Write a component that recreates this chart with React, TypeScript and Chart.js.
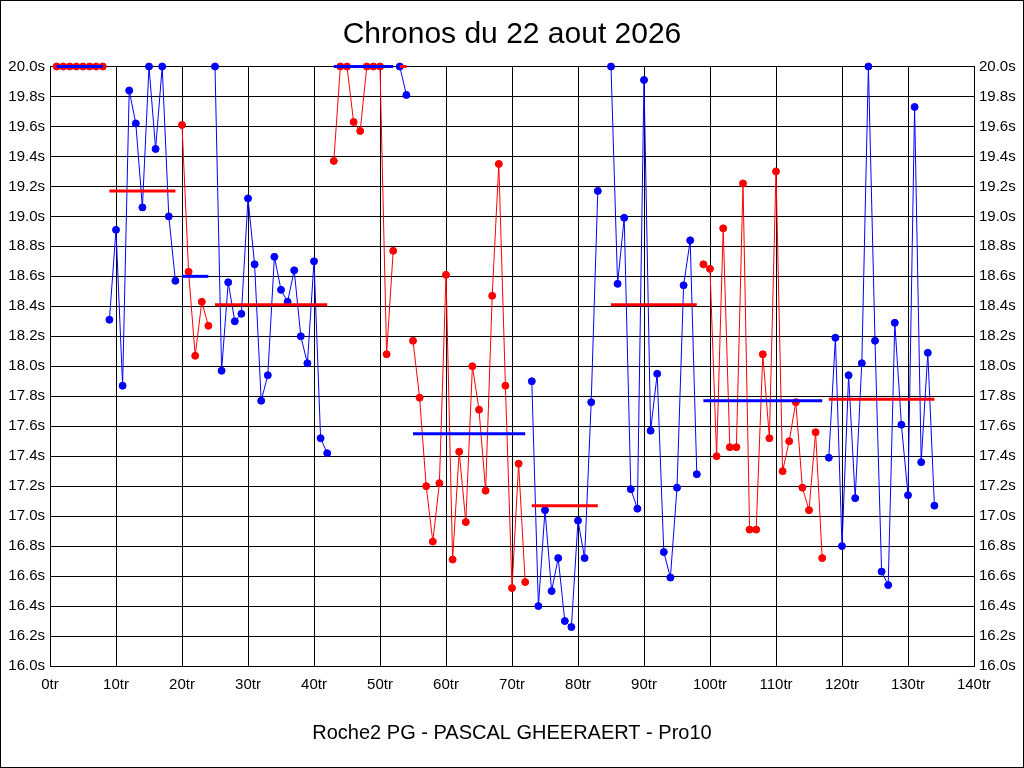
import { useEffect, useRef } from "react"
import { Chart, registerables } from "chart.js"

Chart.register(...registerables)

// lap times (s) per stint; values above 20s are shown clamped at 20.0
const stintStartLaps = [1, 9, 20, 25, 43, 53, 55, 73, 85, 99, 118]

const stint1 = [20.0, 20.0, 20.0, 20.0, 20.0, 20.0, 20.0, 20.0]
const stint2 = [18.31, 18.91, 17.87, 19.84, 19.62, 19.06, 20.0, 19.45, 20.0, 19.0, 18.57]
const stint3 = [19.61, 18.63, 18.07, 18.43, 18.27]
const stint4 = [
  20.0, 17.97, 18.56, 18.3, 18.35, 19.12, 18.68, 17.77, 17.94, 18.73, 18.51, 18.43, 18.64, 18.2,
  18.02, 18.7, 17.52, 17.42,
]
const stint5 = [19.37, 20.0, 20.0, 19.63, 19.57, 20.0, 20.0, 20.0, 18.08, 18.77]
const stint6 = [20.0, 19.81]
const stint7 = [
  18.17, 17.79, 17.2, 16.83, 17.22, 18.61, 16.71, 17.43, 16.96, 18.0, 17.71, 17.17, 18.47, 19.35,
  17.87, 16.52, 17.35, 16.56,
]
const stint8 = [17.9, 16.4, 17.04, 16.5, 16.72, 16.3, 16.26, 16.97, 16.72, 17.76, 19.17]
const stint9 = [
  20.0, 18.55, 18.99, 17.18, 17.05, 19.91, 17.57, 17.95, 16.76, 16.59, 17.19, 18.54, 18.84, 17.28,
]
const stint10 = [
  18.68, 18.65, 17.4, 18.92, 17.46, 17.46, 19.22, 16.91, 16.91, 18.08, 17.52, 19.3, 17.3, 17.5,
  17.76, 17.19, 17.04, 17.56, 16.72,
]
const stint11 = [
  17.39, 18.19, 16.8, 17.94, 17.12, 18.02, 20.0, 18.17, 16.63, 16.54, 18.29, 17.61, 17.14, 19.73,
  17.36, 18.09, 17.07,
]
const stintTimes = [stint1, stint2, stint3, stint4, stint5, stint6, stint7, stint8, stint9, stint10, stint11]

// stint averages as drawn
const stintAverages = [20.0, 19.17, 18.6, 18.41, 20.0, 20.0, 17.55, 17.07, 18.41, 17.77, 17.78]

const lapAxisMax = 140
const timeAxisMin = 16
const timeAxisMax = 20

const RED = "#ff0000"
const BLUE = "#0000ff"
const stintColors = [RED, BLUE, RED, BLUE, RED, BLUE, RED, BLUE, BLUE, RED, BLUE]

const tickFont = { family: "'Liberation Sans Narrow', 'Liberation Sans', Arial, sans-serif", size: 15 }

export default function App() {
  const chartRef = useRef<HTMLCanvasElement | null>(null)
  const chartInstance = useRef<Chart | null>(null)

  useEffect(() => {
    document.body.style.margin = "0"
    if (!chartRef.current) return
    if (chartInstance.current) chartInstance.current.destroy()

    const ctx = chartRef.current.getContext("2d")
    if (!ctx) return

    const stintSets = stintTimes.map((times, s) => ({
      label: `Relais ${s + 1}`,
      data: times.map((t, i) => ({ x: stintStartLaps[s] + i, y: t })),
      borderColor: stintColors[s],
      backgroundColor: stintColors[s],
      pointBackgroundColor: stintColors[s],
      pointBorderColor: stintColors[s],
      borderWidth: 1,
      pointRadius: 3.5,
      pointBorderWidth: 1,
      tension: 0,
      clip: false as const,
      order: 1,
    }))

    const averageSets = stintTimes.map((times, s) => {
      const color = stintColors[s] === RED ? BLUE : RED
      return {
        label: `Moyenne ${s + 1}`,
        data: [
          { x: stintStartLaps[s], y: stintAverages[s] },
          { x: stintStartLaps[s] + times.length - 1, y: stintAverages[s] },
        ],
        borderColor: color,
        backgroundColor: color,
        borderWidth: 3,
        pointRadius: 0,
        tension: 0,
        clip: false as const,
        order: 0,
      }
    })

    chartInstance.current = new Chart(ctx, {
      type: "line",
      data: { datasets: [...stintSets, ...averageSets] },
      options: {
        responsive: false,
        animation: false,
        devicePixelRatio: 1,
        layout: { padding: 0 },
        plugins: {
          legend: { display: false },
          tooltip: { enabled: false },
          title: {
            display: true,
            text: "Chronos du 22 aout 2026",
            color: "#000",
            font: { family: "'Liberation Sans', Arial, sans-serif", size: 30, weight: "normal" },
            padding: { top: 15.5, bottom: 14 },
          },
        },
        scales: {
          x: {
            type: "linear",
            min: 0,
            max: lapAxisMax,
            ticks: {
              stepSize: 10,
              color: "#000",
              font: tickFont,
              padding: 10,
              maxRotation: 0,
              callback: (v) => `${v}tr`,
            },
            grid: { color: "#000", lineWidth: 1, drawTicks: false },
            border: { color: "#000", width: 1 },
            title: {
              display: true,
              text: "Roche2 PG - PASCAL GHEERAERT - Pro10",
              color: "#000",
              font: { family: "'Liberation Sans', Arial, sans-serif", size: 20 },
              padding: { top: 0, bottom: 22 },
            },
            afterFit: (scale) => {
              scale.height = 101
            },
          },
          y: {
            type: "linear",
            position: "left",
            min: timeAxisMin,
            max: timeAxisMax,
            ticks: {
              stepSize: 0.2,
              color: "#000",
              font: tickFont,
              padding: 5,
              callback: (v) => `${Number(v).toFixed(1)}s`,
            },
            grid: { color: "#000", lineWidth: 1, drawTicks: false },
            border: { color: "#000", width: 1 },
            afterFit: (scale) => {
              scale.width = 49
            },
          },
          y2: {
            type: "linear",
            position: "right",
            min: timeAxisMin,
            max: timeAxisMax,
            ticks: {
              stepSize: 0.2,
              color: "#000",
              font: tickFont,
              padding: 5,
              callback: (v) => `${Number(v).toFixed(1)}s`,
            },
            grid: { display: false, drawTicks: false },
            border: { color: "#000", width: 1 },
            afterFit: (scale) => {
              scale.width = 49
            },
          },
        },
      },
    })

    return () => {
      if (chartInstance.current) {
        chartInstance.current.destroy()
        chartInstance.current = null
      }
    }
  }, [])

  return (
    <div
      style={{
        width: 1024,
        height: 768,
        border: "1px solid #000",
        boxSizing: "border-box",
        background: "#fff",
      }}
    >
      <canvas ref={chartRef} width={1022} height={766} style={{ display: "block" }} />
    </div>
  )
}
